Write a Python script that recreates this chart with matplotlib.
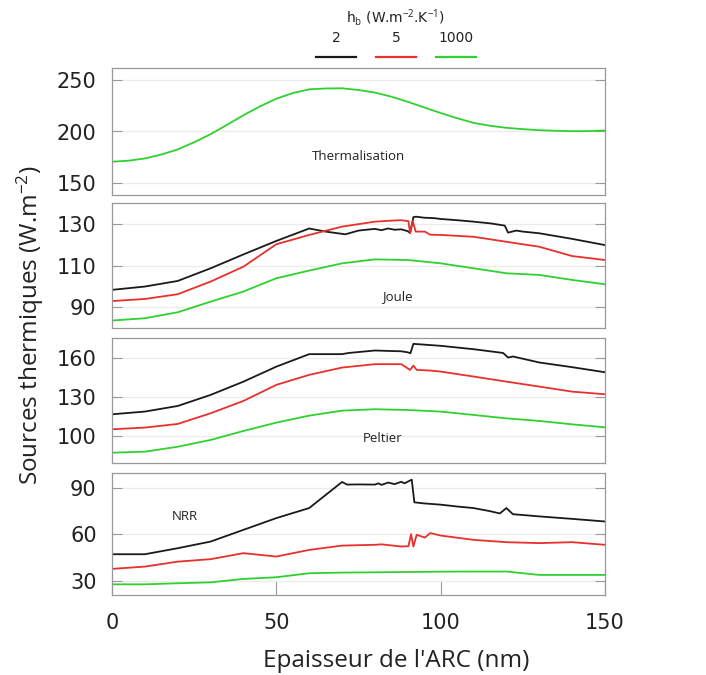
import matplotlib
matplotlib.use("Agg")
import matplotlib.pyplot as plt
from matplotlib.lines import Line2D

# ---- data ----
LEGEND_LABELS = ["2", "5", "1000"]
COLORS = ["#1a1a1a", "#e8302c", "#2fd12f"]

therm_x = [0, 5, 10, 15, 20, 25, 30, 35, 40, 45, 50, 55, 60, 65, 70, 75, 80,
           85, 90, 95, 100, 105, 110, 115, 120, 125, 130, 135, 140, 145, 150]
therm_1000 = [170.5, 171.5, 173.7, 177.5, 182.5, 189.5, 197.4, 206.5, 215.9,
              224.5, 232.0, 237.5, 241.2, 242.0, 242.2, 240.5, 238.0, 234.0,
              229.0, 223.5, 218.0, 213.0, 208.4, 205.6, 203.6, 202.3, 201.3,
              200.7, 200.3, 200.4, 201.0]

joule_x2 = [0, 10, 20, 30, 40, 50, 60, 65, 71, 75, 78, 80, 82, 84, 86, 88,
            90, 90.7, 91.7, 92.5, 95, 98, 100, 105, 110, 115, 119.5, 120.5,
            123, 125, 130, 140, 150]
joule_2 = [98.4, 100.0, 102.7, 108.8, 115.5, 122.0, 128.0, 126.5, 125.2, 127.0,
           127.5, 127.8, 127.2, 128.0, 127.4, 127.6, 126.7, 125.8, 133.5, 133.7,
           133.2, 133.0, 132.6, 132.0, 131.3, 130.5, 129.4, 126.0, 127.0, 126.5,
           125.7, 123.0, 120.0]
joule_x5 = [0, 10, 20, 30, 40, 50, 60, 70, 80, 85, 88, 90.2, 90.7, 91.5,
            92.4, 95.2, 96.8, 100, 110, 120, 130, 140, 150]
joule_5 = [93.0, 94.0, 96.3, 102.4, 109.6, 120.4, 124.9, 128.9, 131.3, 131.8,
           132.0, 131.5, 125.7, 131.6, 126.5, 126.5, 125.0, 124.9, 124.0, 121.6,
           119.2, 114.7, 112.8]
joule_x1000 = [0, 10, 20, 30, 40, 50, 60, 70, 80, 90, 100, 110, 120, 130,
               140, 150]
joule_1000 = [83.6, 84.7, 87.6, 92.7, 97.6, 104.0, 107.7, 111.2, 113.1, 112.8,
              111.2, 108.8, 106.4, 105.6, 103.2, 101.1]

pelt_x2 = [0, 10, 20, 30, 40, 50, 60, 70, 72, 80, 85, 88, 90, 90.8, 91.7,
           100, 110, 119, 120.5, 122, 130, 140, 150]
pelt_2 = [116.4, 118.5, 122.8, 131.3, 141.5, 153.0, 162.6, 162.6, 163.5, 165.4,
          165.0, 164.8, 164.0, 163.3, 170.5, 169.0, 166.4, 163.5, 160.0, 160.8,
          156.2, 152.6, 148.7]
pelt_x5 = [0, 10, 20, 30, 40, 50, 60, 70, 80, 88, 90.7, 91.7, 92.7, 96.8,
           100, 110, 120, 130, 140, 150]
pelt_5 = [104.9, 106.2, 109.0, 117.2, 126.7, 139.0, 146.7, 152.3, 154.9, 154.9,
          150.5, 153.8, 150.5, 150.0, 149.2, 145.4, 141.5, 137.7, 133.8, 131.8]
pelt_x1000 = [0, 10, 20, 30, 40, 50, 60, 70, 80, 90, 100, 110, 120, 130,
              140, 150]
pelt_1000 = [86.9, 87.7, 91.5, 96.7, 103.6, 110.0, 115.4, 119.2, 120.3, 119.7,
             118.5, 115.9, 113.3, 111.3, 108.7, 106.4]

nrr_x2 = [0, 10, 20, 30, 40, 50, 60, 70, 71.5, 75, 80, 81, 82, 84, 86, 88,
          89, 91.2, 92.0, 95, 100, 105, 110, 115, 118, 120, 122, 125, 130,
          140, 150]
nrr_2 = [47.1, 47.1, 51.0, 55.3, 62.9, 70.5, 77.0, 93.9, 92.2, 92.3, 92.2, 93.0,
         92.0, 93.5, 92.5, 94.0, 93.0, 95.4, 80.7, 80.0, 79.2, 78.0, 77.0, 75.0,
         73.5, 77.0, 73.0, 72.5, 71.6, 70.0, 68.3]
nrr_x5 = [0, 10, 20, 30, 40, 50, 60, 70, 80, 82, 88, 90.2, 91.0, 91.7, 92.7,
          95.2, 96.8, 100, 110, 120, 130, 140, 150]
nrr_5 = [37.6, 39.1, 42.3, 43.9, 47.8, 45.6, 49.9, 52.7, 53.2, 53.5, 52.1, 52.3,
         60.1, 52.1, 59.7, 57.9, 60.8, 59.2, 56.4, 54.9, 54.3, 54.9, 53.2]
nrr_x1000 = [0, 10, 20, 30, 40, 50, 60, 70, 80, 90, 100, 110, 120, 130,
             140, 150]
nrr_1000 = [27.6, 27.6, 28.3, 28.9, 31.1, 32.2, 34.8, 35.2, 35.4, 35.6, 35.8,
            35.9, 35.9, 33.7, 33.7, 33.7]

X_TICKS = [0, 50, 100, 150]

panels = [
    dict(series=[(therm_x, therm_1000, 2)], ylim=(138, 262),
         yticks=[150, 200, 250], label="Thermalisation", lpos=(0.5, 0.3)),
    dict(series=[(joule_x2, joule_2, 0), (joule_x5, joule_5, 1),
                 (joule_x1000, joule_1000, 2)],
         ylim=(80, 140.3), yticks=[90, 110, 130], label="Joule",
         lpos=(0.579, 0.25)),
    dict(series=[(pelt_x2, pelt_2, 0), (pelt_x5, pelt_5, 1),
                 (pelt_x1000, pelt_1000, 2)],
         ylim=(79, 175), yticks=[100, 130, 160], label="Peltier",
         lpos=(0.548, 0.2)),
    dict(series=[(nrr_x2, nrr_2, 0), (nrr_x5, nrr_5, 1),
                 (nrr_x1000, nrr_1000, 2)],
         ylim=(20.7, 99.7), yticks=[30, 60, 90], label="NRR",
         lpos=(0.148, 0.64)),
]

# panel extents in pixels (top, bottom)
W, H = 706, 675
LEFT, RIGHT = 112, 605
EXTENTS = [(68, 195), (203, 328), (338, 463), (473, 595)]
SPINE = "#999999"
TXT = "#222222"

plt.rcParams["mathtext.fontset"] = "custom"
plt.rcParams["mathtext.rm"] = "Open Sans"
plt.rcParams["mathtext.it"] = "Open Sans:italic"

fig = plt.figure(figsize=(W / 100, H / 100), dpi=100)

for i, (p, (top, bot)) in enumerate(zip(panels, EXTENTS)):
    ax = fig.add_axes([LEFT / W, 1 - bot / H, (RIGHT - LEFT) / W, (bot - top) / H])
    for x, y, c in p["series"]:
        ax.plot(x, y, color=COLORS[c], lw=1.3)
    ax.set_xlim(0, 150)
    ax.set_ylim(*p["ylim"])
    ax.set_yticks(p["yticks"])
    ax.grid(axis="y", color="#ececec", lw=0.9)
    ax.set_axisbelow(True)
    for s in ax.spines.values():
        s.set_color(SPINE)
        s.set_linewidth(0.9)
    ax.tick_params(axis="y", direction="in", length=7, color=SPINE,
                   left=True, right=True, labelsize=15, pad=11,
                   labelcolor=TXT)
    if i == len(panels) - 1:
        ax.set_xticks(X_TICKS)
        ax.tick_params(axis="x", direction="in", length=10, color=SPINE,
                       labelsize=15, pad=13, labelcolor=TXT)
    else:
        ax.set_xticks([])
    ax.text(*p["lpos"], p["label"], transform=ax.transAxes, ha="center",
            va="center", fontsize=9.5, family="Open Sans", color=TXT)

fig.text(396 / W, 1 - 661 / H, "Epaisseur de l'ARC (nm)", ha="center",
         va="center", fontsize=17.5, family="Open Sans", color=TXT)
fig.text(30 / W, 1 - 325 / H, r"Sources thermiques (W.m$^{\mathrm{-2}}$)",
         ha="center", va="center", rotation=90, fontsize=17.5,
         family="Open Sans", color=TXT)

# legend drawn above the panels: labels over short line samples
fig.text(395 / W, 1 - 17 / H, r"h$_\mathrm{b}$ (W.m$^{\mathrm{-2}}$.K$^{\mathrm{-1}}$)",
         ha="center", va="center", fontsize=10, color=TXT)
for k, (lab, col) in enumerate(zip(LEGEND_LABELS, COLORS)):
    cx = 336 + 60 * k
    fig.text(cx / W, 1 - 38 / H, lab, ha="center", va="center", fontsize=10,
             color=TXT)
    fig.add_artist(Line2D([(cx - 20) / W, (cx + 20) / W],
                          [1 - 57 / H, 1 - 57 / H], color=col, lw=1.6,
                          transform=fig.transFigure))

fig.savefig("out.png", dpi=100)
